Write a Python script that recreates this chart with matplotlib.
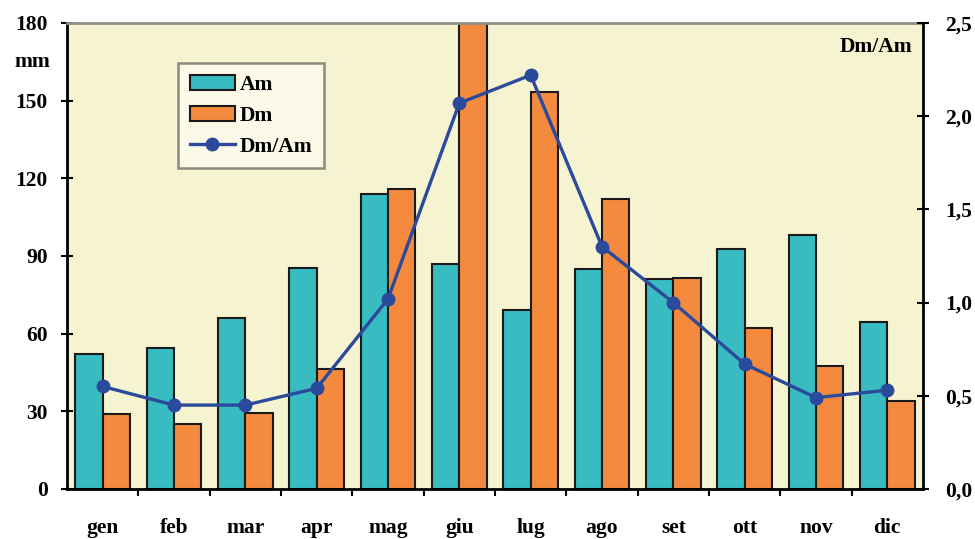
import numpy as np
import matplotlib.pyplot as plt
from matplotlib.ticker import FixedLocator, FuncFormatter

mesi = ['gen', 'feb', 'mar', 'apr', 'mag', 'giu', 'lug', 'ago', 'set', 'ott', 'nov', 'dic']
am = [52, 54.5, 66, 85.5, 114, 87, 69, 85, 81, 92.5, 98, 64.5]
dm = [29, 25, 29.5, 46.5, 116, 180, 153.5, 112, 81.5, 62, 47.5, 34]
rapporto = [0.55, 0.45, 0.45, 0.54, 1.02, 2.07, 2.22, 1.30, 1.00, 0.67, 0.49, 0.53]

plt.rcParams['font.family'] = ['Liberation Serif', 'DejaVu Serif']
plt.rcParams['font.weight'] = 'bold'
fs = 15.5

fig = plt.figure(figsize=(9.75, 5.39), dpi=100)
ax = fig.add_axes([0.0687, 0.0928, 0.878, 0.8646])
ax.set_facecolor('#f6f4d0')

x = np.arange(len(mesi))
w = 0.385
b1 = ax.bar(x - w / 2, am, w, color='#38bbc1', edgecolor='#1a1a1a', lw=1.5, label='Am', zorder=2)
b2 = ax.bar(x + w / 2, dm, w, color='#f38a3e', edgecolor='#1a1a1a', lw=1.5, label='Dm', zorder=2)

ax.set_xlim(-0.5, 11.5)
ax.set_ylim(0, 180)
ax.set_yticks(np.arange(0, 181, 30))
ax.set_xticks(x)
ax.set_xticklabels(mesi, fontsize=fs, fontweight='bold')
ax.xaxis.set_minor_locator(FixedLocator(np.arange(0.5, 11, 1)))
ax.tick_params(axis='x', which='major', length=0, pad=21)
ax.tick_params(axis='x', which='minor', length=5, width=1.5, direction='out')
ax.tick_params(axis='y', length=8, width=1.5, direction='inout', labelsize=fs, pad=10)
for lbl in ax.get_yticklabels():
    lbl.set_fontweight('bold')
for s in ['left', 'bottom']:
    ax.spines[s].set_linewidth(2)
ax.spines['top'].set_color('#8f8f85')
ax.spines['top'].set_linewidth(2)

ax2 = ax.twinx()
ln, = ax2.plot(x, rapporto, color='#2b4a9b', lw=2.4, marker='o', ms=9, label='Dm/Am', zorder=3)
ax2.set_ylim(0, 2.5)
ax2.set_yticks(np.arange(0, 2.51, 0.5))
ax2.yaxis.set_major_formatter(FuncFormatter(lambda v, p: f'{v:.1f}'.replace('.', ',')))
ax2.tick_params(axis='y', length=8, width=1.5, direction='inout', labelsize=fs, pad=12)
for lbl in ax2.get_yticklabels():
    lbl.set_fontweight('bold')
ax2.spines['right'].set_linewidth(2)
ax2.spines['top'].set_visible(False)
ax2.spines['left'].set_visible(False)
ax2.spines['bottom'].set_visible(False)

leg = ax2.legend([b1, b2, ln], ['Am', 'Dm', 'Dm/Am'], loc='upper left',
                 bbox_to_anchor=(0.1297, 0.914), fontsize=fs, frameon=True,
                 fancybox=False, edgecolor='#8a8a80', facecolor='#fbfae8',
                 handlelength=2.1, handletextpad=0.2, borderpad=0.55,
                 labelspacing=0.5, borderaxespad=0)
leg.get_frame().set_linewidth(1.8)
leg.get_frame().set_alpha(1)

ax2.text(0.987, 0.9485, 'Dm/Am', transform=ax2.transAxes, ha='right', va='center',
         fontsize=fs, fontweight='bold')
fig.text(0.051, 1 - 62 / 539, 'mm', ha='right', va='center', fontsize=fs, fontweight='bold')

fig.savefig('out.png', dpi=100)
